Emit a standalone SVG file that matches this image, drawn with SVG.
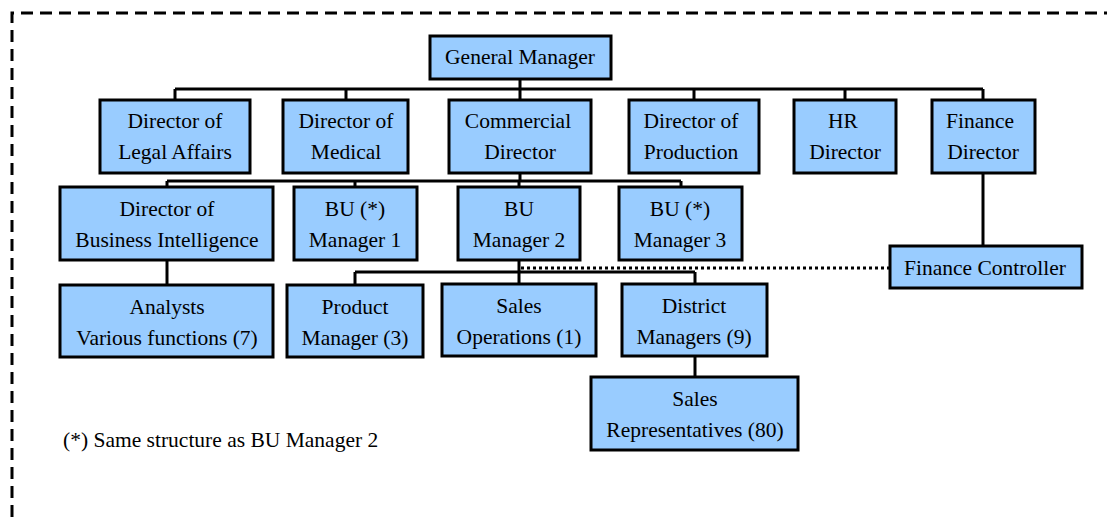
<svg xmlns="http://www.w3.org/2000/svg" width="1107" height="517" viewBox="0 0 1107 517">
<style>
.box{fill:#99CCFF;stroke:#000;stroke-width:3}
.t{font-family:"Liberation Serif","Times New Roman",serif;font-size:21.5px;fill:#000;text-anchor:middle}
.c{fill:none;stroke:#000;stroke-width:3}
</style>
<rect width="1107" height="517" fill="#fff"/>
<path d="M12,517 V13 H1107" fill="none" stroke="#000" stroke-width="3" stroke-dasharray="12,7"/>
<g id="connectors">
<path class="c" d="M520,79 V89 M175,89 H983 M175,89 V100 M346,89 V100 M520,89 V100 M694,89 V100 M845,89 V100 M983,89 V100"/>
<path class="c" d="M520,173 V181 M167,181 H681 M167,181 V187 M355,181 V187 M519,181 V187 M681,181 V187"/>
<path class="c" d="M167,260 V285"/>
<path class="c" d="M519,260 V272 M355,272 H695 M355,272 V285 M519,272 V284 M695,272 V284"/>
<path class="c" d="M983,173 V246"/>
<path class="c" d="M695,356 V377"/>
<path class="c" d="M521,268 H890" stroke-dasharray="3,3"/>
</g>
<g id="gm"><rect class="box" x="430" y="36" width="181" height="43"/><text class="t" x="520" y="64">General Manager</text></g>
<g id="legal"><rect class="box" x="100" y="100" width="150" height="73"/><text class="t" x="175" y="128">Director of</text><text class="t" x="175" y="159">Legal Affairs</text></g>
<g id="medical"><rect class="box" x="283" y="100" width="125" height="73"/><text class="t" x="346" y="128">Director of</text><text class="t" x="346" y="159">Medical</text></g>
<g id="commercial"><rect class="box" x="449" y="100" width="142" height="73"/><text class="t" x="518" y="128">Commercial</text><text class="t" x="520" y="159">Director</text></g>
<g id="production"><rect class="box" x="629" y="100" width="130" height="73"/><text class="t" x="691" y="128">Director of</text><text class="t" x="691" y="159">Production</text></g>
<g id="hr"><rect class="box" x="794" y="100" width="102" height="73"/><text class="t" x="843" y="128">HR</text><text class="t" x="845" y="159">Director</text></g>
<g id="finance"><rect class="box" x="932" y="100" width="103" height="73"/><text class="t" x="980" y="128">Finance</text><text class="t" x="983" y="159">Director</text></g>
<g id="bi"><rect class="box" x="60" y="187" width="213" height="73"/><text class="t" x="167" y="216">Director of</text><text class="t" x="167" y="247">Business Intelligence</text></g>
<g id="bu1"><rect class="box" x="294" y="187" width="123" height="73"/><text class="t" x="355" y="216">BU (*)</text><text class="t" x="355" y="247">Manager 1</text></g>
<g id="bu2"><rect class="box" x="458" y="187" width="122" height="73"/><text class="t" x="519" y="216">BU</text><text class="t" x="519" y="247">Manager 2</text></g>
<g id="bu3"><rect class="box" x="619" y="187" width="123" height="73"/><text class="t" x="680" y="216">BU (*)</text><text class="t" x="680" y="247">Manager 3</text></g>
<g id="fc"><rect class="box" x="890" y="246" width="192" height="42"/><text class="t" x="985" y="275">Finance Controller</text></g>
<g id="analysts"><rect class="box" x="60" y="285" width="213" height="72"/><text class="t" x="167" y="314">Analysts</text><text class="t" x="167" y="345">Various functions (7)</text></g>
<g id="pm"><rect class="box" x="287" y="285" width="136" height="72"/><text class="t" x="355" y="314">Product</text><text class="t" x="355" y="345">Manager (3)</text></g>
<g id="salesops"><rect class="box" x="442" y="284" width="154" height="72"/><text class="t" x="519" y="313">Sales</text><text class="t" x="519" y="344">Operations (1)</text></g>
<g id="dm"><rect class="box" x="622" y="284" width="145" height="72"/><text class="t" x="694" y="313">District</text><text class="t" x="694" y="344">Managers (9)</text></g>
<g id="reps"><rect class="box" x="591" y="377" width="207" height="73"/><text class="t" x="695" y="406">Sales</text><text class="t" x="695" y="437">Representatives (80)</text></g>
<text class="t" x="63" y="447" style="text-anchor:start">(*) Same structure as BU Manager 2</text>
</svg>
